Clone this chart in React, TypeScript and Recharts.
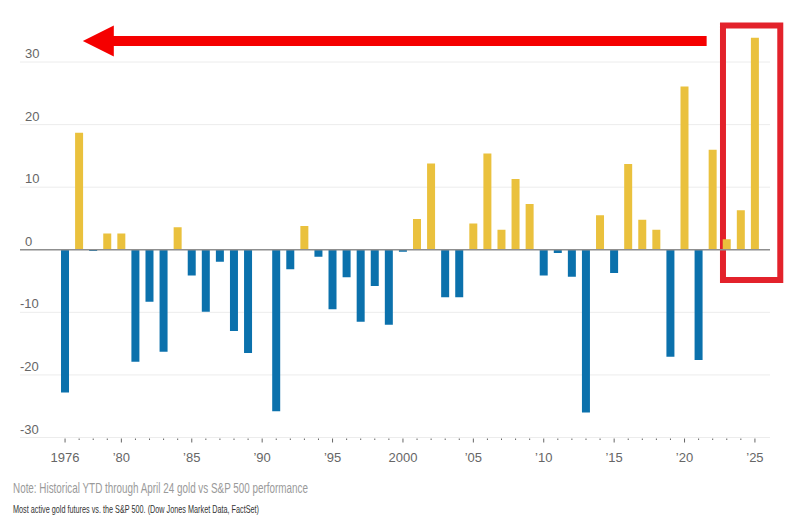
import React from 'react';
import {
  BarChart, Bar, XAxis, YAxis, CartesianGrid, ReferenceLine, ReferenceArea, ReferenceDot, Cell,
} from 'recharts';

const years = [
  1976, 1977, 1978, 1979, 1980, 1981, 1982, 1983, 1984, 1985,
  1986, 1987, 1988, 1989, 1990, 1991, 1992, 1993, 1994, 1995,
  1996, 1997, 1998, 1999, 2000, 2001, 2002, 2003, 2004, 2005,
  2006, 2007, 2008, 2009, 2010, 2011, 2012, 2013, 2014, 2015,
  2016, 2017, 2018, 2019, 2020, 2021, 2022, 2023, 2024, 2025,
];

const diff = [
  -22.8, 18.7, -0.2, 2.6, 2.6, -17.9, -8.3, -16.3, 3.6, -4.1,
  -9.9, -1.9, -13.0, -16.5, 0, -25.8, -3.1, 3.8, -1.1, -9.5,
  -4.4, -11.5, -5.8, -12.0, -0.3, 4.9, 13.8, -7.6, -7.6, 4.2,
  15.4, 3.2, 11.3, 7.3, -4.1, -0.5, -4.3, -26.0, 5.5, -3.7,
  13.7, 4.8, 3.2, -17.1, 26.1, -17.6, 16.0, 1.7, 6.3, 33.9,
];

const labelYears = [1976, 1980, 1985, 1990, 1995, 2000, 2005, 2010, 2015, 2020, 2025];
const labelTexts = ['1976', '’80', '’85', '’90', '’95', '2000', '’05', '’10', '’15', '’20', '’25'];

const yTicks = [-30, -20, -10, 0, 10, 20, 30];

const noteText = 'Note: Historical YTD through April 24 gold vs S&P 500 performance';
const sourceText = 'Most active gold futures vs. the S&P 500. (Dow Jones Market Data, FactSet)';

const GOLD = '#EAC13D';
const BLUE = '#0B71AC';
const RED_BOX = '#E3222B';
const RED_ARROW = '#F50000';
const FONT = '"Liberation Sans", Arial, sans-serif';

const data = years.map((y, i) => ({ year: y, value: diff[i] }));

const XTick = (props: any) => {
  const { x, y, payload } = props;
  const idx = labelYears.indexOf(payload.value);
  const major = idx >= 0;
  return (
    <g>
      <line x1={x} x2={x} y1={y + 1} y2={y + (major ? 5 : 2.5)} stroke="#666" strokeWidth={1} />
      {major && (
        <text x={x} y={y + 24.5} textAnchor="middle" fontSize={13} fill="#666" fontFamily={FONT}>
          {labelTexts[idx]}
        </text>
      )}
    </g>
  );
};

const YTick = (props: any) => {
  const { y, payload } = props;
  const v = payload.value;
  return (
    <text x={v < 0 ? 20 : 25} y={y - 4} textAnchor="start" fontSize={13} fill="#666" fontFamily={FONT}>
      {v < 0 ? `-${Math.abs(v)}` : `${v}`}
    </text>
  );
};

const ArrowHead = (props: any) => {
  const { cx, cy } = props;
  if (cx == null || cy == null) return null;
  return (
    <polygon
      points={`${cx},${cy} ${cx + 31},${cy - 15.5} ${cx + 31},${cy + 15.5}`}
      fill={RED_ARROW}
    />
  );
};

export default function App() {
  return (
    <div style={{ position: 'absolute', left: 0, top: 0, width: 800, height: 530, background: '#fff' }}>
      <BarChart
        width={800}
        height={470}
        data={data}
        margin={{ top: 24.5, right: 30, bottom: 0, left: 0 }}
      >
        <CartesianGrid vertical={false} horizontalValues={yTicks} stroke="#ececec" strokeWidth={1} />
        <XAxis
          dataKey="year"
          type="number"
          domain={[1972.8, 2026.07]}
          ticks={years}
          interval={0}
          allowDataOverflow
          axisLine={false}
          tickLine={false}
          tickSize={0}
          tickMargin={0}
          height={32.5}
          tick={<XTick />}
        />
        <YAxis
          type="number"
          domain={[-30, 36]}
          ticks={yTicks}
          interval={0}
          allowDataOverflow
          width={20}
          axisLine={false}
          tickLine={false}
          tick={<YTick />}
        />
        <ReferenceLine y={0} stroke="#8f8f8f" strokeWidth={1.5} />
        <Bar dataKey="value" barSize={8} isAnimationActive={false}>
          {data.map((d, i) => (
            <Cell key={i} fill={d.value >= 0 ? GOLD : BLUE} />
          ))}
        </Bar>
        <ReferenceArea
          x1={2022.73}
          x2={2026.8}
          y1={-4.84}
          y2={35.86}
          fill="none"
          fillOpacity={0}
          stroke={RED_BOX}
          strokeWidth={6}
          ifOverflow="visible"
        />
        <ReferenceLine
          segment={[{ x: 1979.3, y: 33.37 }, { x: 2021.57, y: 33.37 }]}
          stroke={RED_ARROW}
          strokeWidth={10}
          ifOverflow="visible"
        />
        <ReferenceDot x={1977.26} y={33.37} r={1} ifOverflow="visible" shape={<ArrowHead />} />
      </BarChart>
      <svg width={800} height={60} style={{ position: 'absolute', left: 0, top: 470 }}>
        <text x={13} y={23} fontSize={15} fill="#9a9a9a" fontFamily={FONT} textLength={295} lengthAdjust="spacingAndGlyphs">
          {noteText}
        </text>
        <text x={13} y={43} fontSize={10.5} fill="#333" fontFamily={FONT} textLength={246} lengthAdjust="spacingAndGlyphs">
          {sourceText}
        </text>
      </svg>
    </div>
  );
}
